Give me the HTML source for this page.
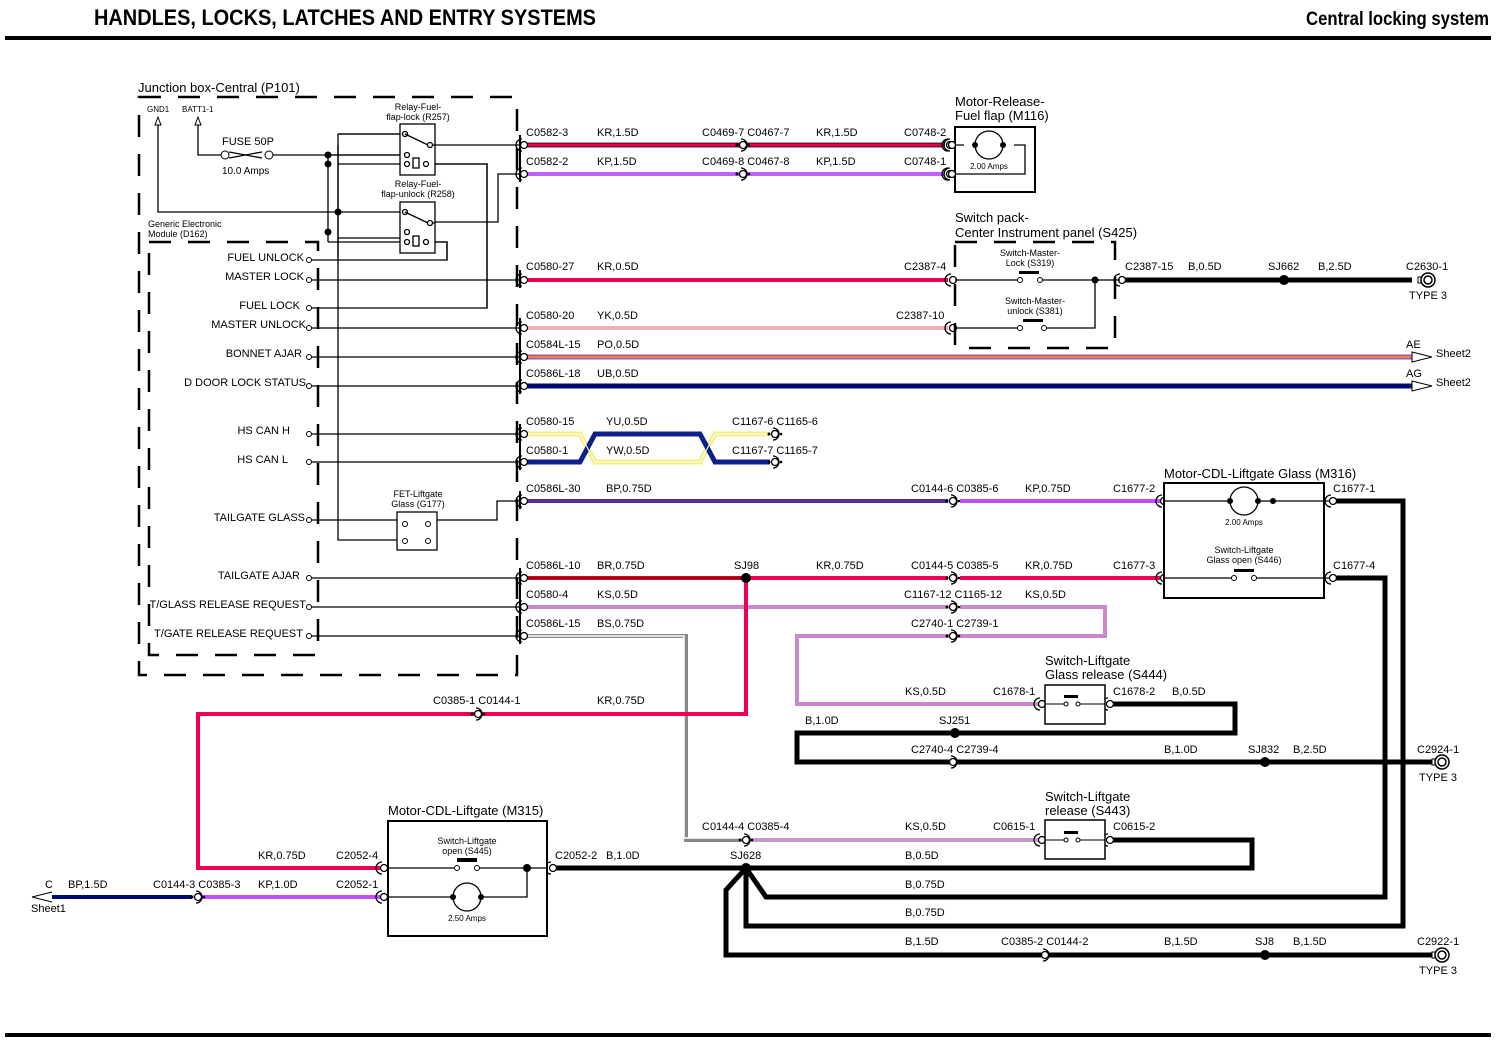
<!DOCTYPE html>
<html><head><meta charset="utf-8"><style>
body{margin:0;background:#fff}
svg{display:block}
text{font-family:"Liberation Sans",sans-serif;font-size:11px;fill:#000}
.s{font-size:9px}
.xs{font-size:8px}
.l{font-size:13px}
</style></head><body>
<svg width="1512" height="1040" viewBox="0 0 1512 1040" xmlns="http://www.w3.org/2000/svg">
<defs>
<symbol id="cn" overflow="visible"><circle cx="0" cy="0" r="3.5" fill="#fff" stroke="#000" stroke-width="1.3"/><path d="M-2,-6 A6,6 0 0 1 -2,6" fill="none" stroke="#000" stroke-width="1.3"/><circle cx="-6" cy="0" r="1.5"/><circle cx="6" cy="0" r="1.3"/></symbol>
<symbol id="cl" overflow="visible"><circle cx="2" cy="0" r="3.5" fill="#fff" stroke="#000" stroke-width="1.3"/><path d="M0,-6 A6,6 0 0 0 0,6" fill="none" stroke="#000" stroke-width="1.3"/></symbol>
<symbol id="gnd" overflow="visible"><rect x="-10" y="-3" width="4" height="6" fill="#fff" stroke="#000"/><circle cx="0" cy="0" r="7" fill="#fff" stroke="#000" stroke-width="1.5"/><circle cx="0" cy="0" r="4" fill="none" stroke="#000" stroke-width="1.5"/></symbol>
</defs>
<!-- header -->
<text x="94" y="25" style="font-size:22px;font-weight:bold" textLength="502" lengthAdjust="spacingAndGlyphs">HANDLES, LOCKS, LATCHES AND ENTRY SYSTEMS</text>
<text x="1489" y="25" text-anchor="end" style="font-size:19px;font-weight:bold" textLength="183" lengthAdjust="spacingAndGlyphs">Central locking system</text>
<line x1="5" y1="38" x2="1491" y2="38" stroke="#000" stroke-width="4"/>
<line x1="5" y1="1035" x2="1491" y2="1035" stroke="#000" stroke-width="4"/>

<!-- junction box -->
<text x="138" y="92" class="l">Junction box-Central (P101)</text>
<rect x="139" y="97" width="378" height="578" fill="none" stroke="#000" stroke-width="2.5" stroke-dasharray="22,17"/>
<text x="148" y="227" class="s">Generic Electronic</text>
<text x="148" y="237" class="s">Module (D162)</text>
<rect x="149" y="242" width="169" height="413" fill="none" stroke="#000" stroke-width="2.5" stroke-dasharray="22,17"/>
<text x="147" y="112" class="xs">GND1</text><text x="182" y="112" class="xs">BATT1-1</text>
<path d="M158,117 l-3,8 h6 z M198,117 l-3,8 h6 z" fill="#fff" stroke="#000"/>
<g fill="none" stroke="#000" stroke-width="1.3">
<path d="M158,125 V212 H400"/>
<path d="M198,125 V155 H221"/>
<path d="M229,152 L262,158 M229,158 L262,152"/>
<path d="M273,155 H400"/>
<path d="M338,145 V257 M328,155 V242 M338,238 H400 M328,242 H400"/>
<path d="M328,155 H400 M338,164 H400"/>
<path d="M338,134 H400"/>
<path d="M338,134 V540 H397"/>
<path d="M435,164 H487 V308 H309"/>
<path d="M435,242 H447 V260 H309"/>
<path d="M435,222 H498 V174 H520"/>
</g>
<circle cx="225" cy="155" r="4" fill="#fff" stroke="#000"/><circle cx="269" cy="155" r="4" fill="#fff" stroke="#000"/>
<text x="222" y="145">FUSE 50P</text><text x="222" y="174" style="font-size:10px">10.0 Amps</text>
<g fill="#000"><circle cx="328" cy="155" r="3.5"/><circle cx="328" cy="164" r="3.5"/><circle cx="338" cy="212" r="3.5"/><circle cx="328" cy="232" r="3.5"/></g>
<!-- relays -->
<text x="418" y="110" class="s" text-anchor="middle">Relay-Fuel-</text><text x="418" y="120" class="s" text-anchor="middle">flap-lock (R257)</text>
<rect x="400" y="124" width="35" height="51" fill="#fff" stroke="#000" stroke-width="1.3"/>
<text x="418" y="187" class="s" text-anchor="middle">Relay-Fuel-</text><text x="418" y="197" class="s" text-anchor="middle">flap-unlock (R258)</text>
<rect x="400" y="202" width="35" height="51" fill="#fff" stroke="#000" stroke-width="1.3"/>
<g fill="none" stroke="#000" stroke-width="1.3">
<path d="M338,134 H400"/>
<path d="M405,134 L428,145 M405,212 L428,223"/>
<path d="M432,145 H520 M432,223 H435"/>
<rect x="413" y="158" width="6" height="10"/><rect x="413" y="236" width="6" height="10"/>
<circle cx="407" cy="155" r="2.5"/><circle cx="407" cy="164" r="2.5"/><circle cx="426" cy="164" r="2.5"/>
<circle cx="407" cy="232" r="2.5"/><circle cx="407" cy="242" r="2.5"/><circle cx="426" cy="242" r="2.5"/>
<circle cx="405" cy="134" r="2.5"/><circle cx="430" cy="145" r="2.5"/><circle cx="405" cy="212" r="2.5"/><circle cx="430" cy="223" r="2.5"/>
<path d="M435,164 H487 V308"/>
<path d="M435,242 H447 V260"/>
</g>
<!-- GEM pins -->
<g text-anchor="end">
<text x="304" y="261">FUEL  UNLOCK</text><text x="304" y="280">MASTER LOCK</text><text x="300" y="309">FUEL LOCK</text>
<text x="306" y="328">MASTER UNLOCK</text><text x="302" y="357">BONNET AJAR</text><text x="306" y="386">D DOOR LOCK STATUS</text>
<text x="290" y="434">HS CAN H</text><text x="288" y="463">HS CAN L</text><text x="305" y="521">TAILGATE GLASS</text>
<text x="300" y="579">TAILGATE AJAR</text><text x="306" y="608">T/GLASS RELEASE REQUEST</text><text x="303" y="637">T/GATE RELEASE REQUEST</text>
</g>
<g fill="none" stroke="#000" stroke-width="1.3">
<path d="M309,280 H520 M309,328 H520 M309,357 H520 M309,386 H520 M309,434 H520 M309,462 H520 M309,578 H520 M309,607 H520 M309,636 H520"/>
<path d="M309,520 H397 M437,520 H497 V501 H520"/>
</g>
<g fill="#fff" stroke="#000"><circle cx="309" cy="260" r="2.5"/><circle cx="309" cy="280" r="2.5"/><circle cx="309" cy="308" r="2.5"/><circle cx="309" cy="328" r="2.5"/><circle cx="309" cy="357" r="2.5"/><circle cx="309" cy="386" r="2.5"/><circle cx="309" cy="434" r="2.5"/><circle cx="309" cy="462" r="2.5"/><circle cx="309" cy="520" r="2.5"/><circle cx="309" cy="578" r="2.5"/><circle cx="309" cy="607" r="2.5"/><circle cx="309" cy="636" r="2.5"/></g>
<text x="418" y="497" class="s" text-anchor="middle">FET-Liftgate</text><text x="418" y="507" class="s" text-anchor="middle">Glass (G177)</text>
<rect x="397" y="512" width="40" height="38" fill="#fff" stroke="#000" stroke-width="1.3"/>
<g fill="#fff" stroke="#000"><circle cx="405" cy="524" r="2.5"/><circle cx="428" cy="524" r="2.5"/><circle cx="405" cy="541" r="2.5"/><circle cx="428" cy="541" r="2.5"/></g>
<!-- connector bars at 520 -->
<g stroke="#000" stroke-width="2"><path d="M520,135 V182 M520,270 V288 M520,318 V394 M520,424 V470 M520,491 V509 M520,568 V644"/></g>

<!-- colored wires -->
<g fill="none" stroke-width="4">
<path d="M524,145 H945" stroke="#e8004a"/>
<path d="M524,174 H945" stroke="#c060ff"/>
<path d="M524,280 H948" stroke="#e8004a"/>
<path d="M524,328 H948" stroke="#f0b0b0"/>
<path d="M524,357 H1412" stroke="#9050c0" stroke-width="5"/>
<path d="M524,357 H1412" stroke="#f08040" stroke-width="2.5"/>
<path d="M524,386 H1412" stroke="#000a70" stroke-width="5"/>
<path d="M524,501 H948" stroke="#503090"/>
<path d="M960,501 H1160" stroke="#c050ff"/>
<path d="M524,578 H746" stroke="#e00020"/>
<path d="M746,578 H948 M960,578 H1160" stroke="#f00050"/>
<path d="M524,607 H948 M960,607 H1105 V636 H797 V704 H1040" stroke="#cc88cc"/>
<path d="M524,636 H686 V840 H742" stroke="#888" stroke-width="4"/>
<path d="M526,636 H684 V838 H742" stroke="#fff" stroke-width="1.5"/>
<path d="M750,840 H1040" stroke="#c898c8"/>
<path d="M746,578 V714 H198 V868 H380" stroke="#f00050"/>
<path d="M38,897 H192" stroke="#000a70"/>
<path d="M202,897 H380" stroke="#c050ff"/>
</g>
<g fill="none" stroke="#000" stroke-width="0.8"><path d="M524,143 H945 M524,147 H945 M524,578 H746"/></g>
<!-- CAN twisted -->
<g fill="none" stroke-width="5">
<path d="M524,434 H580 L595,462 H700 L715,434 H770" stroke="#f4f080"/>
<path d="M524,462 H580 L595,434 H700 L715,462 H770" stroke="#10208a"/>
</g>
<g fill="none" stroke="#fff" stroke-width="1"><path d="M524,434 H580 L595,462 H700 L715,434 H770"/></g>
<!-- black heavy wires -->
<g fill="none" stroke="#000" stroke-width="5">
<path d="M1122,280 H1412"/>
<path d="M550,868 H1252 V840 H1110"/>
<path d="M1110,704 H1235 V733 H797 V762 H1440"/>
<path d="M746,868 L766,897 H1385 V578 H1333"/>
<path d="M746,868 V926 H1403 V501 H1333"/>
<path d="M746,868 L726,890 V955 H1440"/>
</g>
<g fill="#000"><circle cx="746" cy="578" r="5"/><circle cx="1284" cy="280" r="5"/><circle cx="955" cy="733" r="5"/><circle cx="1265" cy="762" r="5"/><circle cx="1265" cy="955" r="5"/><circle cx="746" cy="868" r="5"/></g>

<!-- connectors -->
<use href="#cl" x="522" y="145"/><use href="#cl" x="522" y="174"/><use href="#cl" x="522" y="280"/><use href="#cl" x="522" y="328"/><use href="#cl" x="522" y="357"/><use href="#cl" x="522" y="386"/><use href="#cl" x="522" y="434"/><use href="#cl" x="522" y="462"/><use href="#cl" x="522" y="501"/><use href="#cl" x="522" y="578"/><use href="#cl" x="522" y="607"/><use href="#cl" x="522" y="636"/>
<use href="#cn" x="743" y="145"/><use href="#cn" x="743" y="174"/><use href="#cn" x="775" y="434"/><use href="#cn" x="775" y="462"/>
<use href="#cn" x="953" y="501"/><use href="#cn" x="953" y="578"/><use href="#cn" x="953" y="607"/><use href="#cn" x="953" y="636"/>
<use href="#cn" x="478" y="714"/><use href="#cn" x="198" y="897"/><use href="#cn" x="746" y="840"/><use href="#cn" x="953" y="762"/><use href="#cn" x="1045" y="955"/>
<use href="#cl" x="948" y="145"/><use href="#cl" x="948" y="174"/><use href="#cl" x="951" y="280"/><use href="#cl" x="951" y="328"/>
<use href="#cl" x="1120" y="280"/><use href="#cl" x="1162" y="501"/><use href="#cl" x="1162" y="578"/><use href="#cl" x="1331" y="501"/><use href="#cl" x="1331" y="578"/>
<use href="#cl" x="1040" y="704"/><use href="#cl" x="1108" y="704"/><use href="#cl" x="1040" y="840"/><use href="#cl" x="1108" y="840"/>
<use href="#cl" x="382" y="868"/><use href="#cl" x="382" y="897"/><use href="#cl" x="551" y="868"/>
<use href="#gnd" x="1428" y="280"/><use href="#gnd" x="1442" y="762"/><use href="#gnd" x="1442" y="955"/>
<text x="1428" y="299" text-anchor="middle">TYPE 3</text><text x="1438" y="781" text-anchor="middle">TYPE 3</text><text x="1438" y="974" text-anchor="middle">TYPE 3</text>
<!-- arrows -->
<path d="M1412,352 L1432,357 L1412,362 Z M1412,381 L1432,386 L1412,391 Z" fill="#fff" stroke="#000"/>
<text x="1406" y="348">AE</text><text x="1436" y="357">Sheet2</text>
<text x="1406" y="377">AG</text><text x="1436" y="386">Sheet2</text>
<path d="M52,892 L32,897 L52,902" fill="#fff" stroke="#000"/>
<text x="45" y="888">C</text><text x="31" y="912">Sheet1</text>

<!-- wire labels -->
<g>
<text x="526" y="136">C0582-3</text><text x="597" y="136">KR,1.5D</text><text x="702" y="136">C0469-7 C0467-7</text><text x="816" y="136">KR,1.5D</text><text x="904" y="136">C0748-2</text>
<text x="526" y="165">C0582-2</text><text x="597" y="165">KP,1.5D</text><text x="702" y="165">C0469-8 C0467-8</text><text x="816" y="165">KP,1.5D</text><text x="904" y="165">C0748-1</text>
<text x="526" y="270">C0580-27</text><text x="597" y="270">KR,0.5D</text><text x="904" y="270">C2387-4</text>
<text x="526" y="319">C0580-20</text><text x="597" y="319">YK,0.5D</text><text x="896" y="319">C2387-10</text>
<text x="526" y="348">C0584L-15</text><text x="597" y="348">PO,0.5D</text>
<text x="526" y="377">C0586L-18</text><text x="597" y="377">UB,0.5D</text>
<text x="526" y="425">C0580-15</text><text x="606" y="425">YU,0.5D</text><text x="732" y="425">C1167-6 C1165-6</text>
<text x="526" y="454">C0580-1</text><text x="606" y="454">YW,0.5D</text><text x="732" y="454">C1167-7 C1165-7</text>
<text x="526" y="492">C0586L-30</text><text x="606" y="492">BP,0.75D</text><text x="911" y="492">C0144-6 C0385-6</text><text x="1025" y="492">KP,0.75D</text><text x="1113" y="492">C1677-2</text>
<text x="526" y="569">C0586L-10</text><text x="597" y="569">BR,0.75D</text><text x="734" y="569">SJ98</text><text x="816" y="569">KR,0.75D</text><text x="911" y="569">C0144-5 C0385-5</text><text x="1025" y="569">KR,0.75D</text><text x="1113" y="569">C1677-3</text>
<text x="526" y="598">C0580-4</text><text x="597" y="598">KS,0.5D</text><text x="904" y="598">C1167-12 C1165-12</text><text x="1025" y="598">KS,0.5D</text>
<text x="526" y="627">C0586L-15</text><text x="597" y="627">BS,0.75D</text><text x="911" y="627">C2740-1 C2739-1</text>
<text x="433" y="704">C0385-1 C0144-1</text><text x="597" y="704">KR,0.75D</text>
<text x="905" y="695">KS,0.5D</text><text x="993" y="695">C1678-1</text><text x="1113" y="695">C1678-2</text><text x="1172" y="695">B,0.5D</text>
<text x="805" y="724">B,1.0D</text><text x="939" y="724">SJ251</text>
<text x="911" y="753">C2740-4 C2739-4</text><text x="1164" y="753">B,1.0D</text><text x="1248" y="753">SJ832</text><text x="1293" y="753">B,2.5D</text><text x="1417" y="753">C2924-1</text>
<text x="702" y="830">C0144-4 C0385-4</text><text x="905" y="830">KS,0.5D</text><text x="993" y="830">C0615-1</text><text x="1113" y="830">C0615-2</text>
<text x="555" y="859">C2052-2</text><text x="606" y="859">B,1.0D</text><text x="730" y="859">SJ628</text><text x="905" y="859">B,0.5D</text>
<text x="905" y="888">B,0.75D</text><text x="905" y="916">B,0.75D</text>
<text x="905" y="945">B,1.5D</text><text x="1001" y="945">C0385-2 C0144-2</text><text x="1164" y="945">B,1.5D</text><text x="1255" y="945">SJ8</text><text x="1293" y="945">B,1.5D</text><text x="1417" y="945">C2922-1</text>
<text x="258" y="859">KR,0.75D</text><text x="336" y="859">C2052-4</text>
<text x="68" y="888">BP,1.5D</text><text x="153" y="888">C0144-3 C0385-3</text><text x="258" y="888">KP,1.0D</text><text x="336" y="888">C2052-1</text>
<text x="1125" y="270">C2387-15</text><text x="1188" y="270">B,0.5D</text><text x="1268" y="270">SJ662</text><text x="1318" y="270">B,2.5D</text><text x="1406" y="270">C2630-1</text>
<text x="1333" y="492">C1677-1</text><text x="1333" y="569">C1677-4</text>
</g>

<!-- M116 -->
<text x="955" y="106" class="l">Motor-Release-</text><text x="955" y="120" class="l">Fuel flap (M116)</text>
<rect x="955" y="127" width="80" height="65" fill="#fff" stroke="#000" stroke-width="2"/>
<g fill="none" stroke="#000" stroke-width="1.3"><path d="M955,145 H964 M1014,145 H1025 V174 H955"/></g>
<circle cx="989" cy="145" r="14" fill="#fff" stroke="#000" stroke-width="1.3"/>
<circle cx="975" cy="145" r="3"/><circle cx="1003" cy="145" r="3"/>
<text x="989" y="169" class="xs" text-anchor="middle">2.00 Amps</text>
<use href="#cl" x="950" y="145"/><use href="#cl" x="950" y="174"/>

<!-- S425 -->
<text x="955" y="222" class="l">Switch pack-</text><text x="955" y="237" class="l">Center Instrument panel (S425)</text>
<rect x="955" y="242" width="160" height="106" fill="none" stroke="#000" stroke-width="2.5" stroke-dasharray="22,17"/>
<g fill="none" stroke="#000" stroke-width="1.3"><path d="M955,280 H1020 M1040,280 H1120 M955,328 H1020 M1044,328 H1095 V280"/></g>
<g fill="#fff" stroke="#000"><circle cx="1020" cy="280" r="2.5"/><circle cx="1040" cy="280" r="2.5"/><circle cx="1020" cy="328" r="2.5"/><circle cx="1044" cy="328" r="2.5"/></g>
<rect x="1019" y="271" width="20" height="3"/><rect x="1023" y="319" width="20" height="3"/>
<circle cx="1095" cy="280" r="3.5"/>
<text x="1030" y="256" class="s" text-anchor="middle">Switch-Master-</text><text x="1030" y="266" class="s" text-anchor="middle">Lock (S319)</text>
<text x="1035" y="304" class="s" text-anchor="middle">Switch-Master-</text><text x="1035" y="314" class="s" text-anchor="middle">unlock (S381)</text>

<!-- M316 -->
<text x="1164" y="478" class="l">Motor-CDL-Liftgate Glass (M316)</text>
<rect x="1164" y="483" width="160" height="115" fill="#fff" stroke="#000" stroke-width="2"/>
<g fill="none" stroke="#000" stroke-width="1.3"><path d="M1164,501 H1228 M1260,501 H1330 M1164,578 H1232 M1255,578 H1330"/></g>
<circle cx="1244" cy="501" r="14" fill="#fff" stroke="#000" stroke-width="1.3"/>
<circle cx="1230" cy="501" r="3"/><circle cx="1258" cy="501" r="3"/><circle cx="1273" cy="501" r="3"/>
<text x="1244" y="525" class="xs" text-anchor="middle">2.00 Amps</text>
<text x="1244" y="553" class="s" text-anchor="middle">Switch-Liftgate</text><text x="1244" y="563" class="s" text-anchor="middle">Glass open (S446)</text>
<rect x="1234" y="569" width="20" height="3"/>
<g fill="#fff" stroke="#000"><circle cx="1234" cy="578" r="2.5"/><circle cx="1254" cy="578" r="2.5"/></g>

<!-- S444 -->
<text x="1045" y="665" class="l">Switch-Liftgate</text><text x="1045" y="679" class="l">Glass release (S444)</text>
<rect x="1045" y="685" width="60" height="39" fill="#fff" stroke="#000" stroke-width="1.5"/>
<path d="M1045,704 H1064 M1078,704 H1105" stroke="#000"/>
<g fill="#fff" stroke="#000"><circle cx="1066" cy="704" r="2"/><circle cx="1078" cy="704" r="2"/></g>
<rect x="1064" y="695" width="14" height="3"/>
<!-- S443 -->
<text x="1045" y="801" class="l">Switch-Liftgate</text><text x="1045" y="815" class="l">release (S443)</text>
<rect x="1045" y="820" width="60" height="39" fill="#fff" stroke="#000" stroke-width="1.5"/>
<path d="M1045,840 H1064 M1078,840 H1105" stroke="#000"/>
<g fill="#fff" stroke="#000"><circle cx="1066" cy="840" r="2"/><circle cx="1078" cy="840" r="2"/></g>
<rect x="1064" y="831" width="14" height="3"/>

<!-- M315 -->
<text x="388" y="815" class="l">Motor-CDL-Liftgate (M315)</text>
<rect x="388" y="821" width="159" height="115" fill="#fff" stroke="#000" stroke-width="2"/>
<g fill="none" stroke="#000" stroke-width="1.3"><path d="M388,868 H455 M478,868 H547 M388,897 H452 M482,897 H527 V868"/></g>
<g fill="#fff" stroke="#000"><circle cx="457" cy="868" r="2.5"/><circle cx="477" cy="868" r="2.5"/></g>
<rect x="457" y="858" width="20" height="4"/>
<circle cx="527" cy="868" r="4"/>
<circle cx="467" cy="897" r="14" fill="#fff" stroke="#000" stroke-width="1.3"/>
<circle cx="453" cy="897" r="3"/><circle cx="481" cy="897" r="3"/>
<text x="467" y="921" class="xs" text-anchor="middle">2.50 Amps</text>
<text x="467" y="844" class="s" text-anchor="middle">Switch-Liftgate</text><text x="467" y="854" class="s" text-anchor="middle">open (S445)</text>
</svg>
</body></html>
